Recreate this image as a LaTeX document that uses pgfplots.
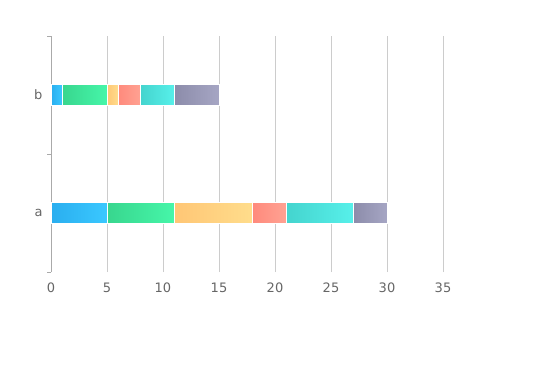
\documentclass[border=0pt]{standalone}
\usepackage{pgfplots}
\pgfplotsset{compat=1.18}
\usepackage{fontspec}
\setmainfont{DejaVu Sans}
\definecolor{gridc}{HTML}{CCCCCC}
\definecolor{axc}{HTML}{AAAAAA}
\definecolor{labc}{HTML}{666666}
\definecolor{c1l}{HTML}{2AAEEF}\definecolor{c1r}{HTML}{3AC8FF}
\definecolor{c2l}{HTML}{38D68E}\definecolor{c2r}{HTML}{46F6A9}
\definecolor{c3l}{HTML}{FFC675}\definecolor{c3r}{HTML}{FFDD8C}
\definecolor{c4l}{HTML}{FF8A7C}\definecolor{c4r}{HTML}{FFA293}
\definecolor{c5l}{HTML}{44D4CE}\definecolor{c5r}{HTML}{57F0EA}
\definecolor{c6l}{HTML}{8C8CAA}\definecolor{c6r}{HTML}{A6A6C4}
\pgfplotsset{
  base/.style={
    at={(51pt,117pt)}, anchor=south west,
    scale only axis, width=392pt, height=236pt,
    xbar stacked, bar width=20.5pt,
    xmin=0, xmax=35, ymin=-0.5, ymax=1.5,
  },
  s1/.style={draw=white, line width=1pt, left color=c1l, right color=c1r},
  s2/.style={draw=white, line width=1pt, left color=c2l, right color=c2r},
  s3/.style={draw=white, line width=1pt, left color=c3l, right color=c3r},
  s4/.style={draw=white, line width=1pt, left color=c4l, right color=c4r},
  s5/.style={draw=white, line width=1pt, left color=c5l, right color=c5r},
  s6/.style={draw=white, line width=1pt, left color=c6l, right color=c6r},
}
\begin{document}
\begin{tikzpicture}
\path (0,0) rectangle (537pt,389pt);
% category a
\begin{axis}[
  base,
  xtick={0,5,...,35}, ytick={0,1}, yticklabels={a,b},
  xmajorgrids, grid style={color=gridc, line width=0.8pt},
  axis y line*=left, axis x line*=bottom,
  axis line style={-},
  x axis line style={draw=none},
  y axis line style={color=axc, line width=0.8pt},
  major tick length=0pt,
  tick align=outside,
  extra y ticks={-0.5,0.5,1.5}, extra y tick labels={},
  extra y tick style={major tick length=4pt, tick style={color=axc, line width=0.8pt}, grid=none},
  tick label style={font=\fontsize{13}{15}\selectfont, color=labc},
  xticklabel style={yshift=-7pt},
  yticklabel style={xshift=-5pt},
  /pgf/number format/assume math mode=true,
]
\addplot[s1] coordinates {(5,0)};
\addplot[s2] coordinates {(6,0)};
\addplot[s3] coordinates {(7,0)};
\addplot[s4] coordinates {(3,0)};
\addplot[s5] coordinates {(6,0)};
\addplot[s6] coordinates {(3,0)};
\end{axis}
% category b
\begin{axis}[base, hide axis]
\addplot[s1] coordinates {(1,1)};
\addplot[s2] coordinates {(4,1)};
\addplot[s3] coordinates {(1,1)};
\addplot[s4] coordinates {(2,1)};
\addplot[s5] coordinates {(3,1)};
\addplot[s6] coordinates {(4,1)};
\end{axis}
\end{tikzpicture}
\end{document}
